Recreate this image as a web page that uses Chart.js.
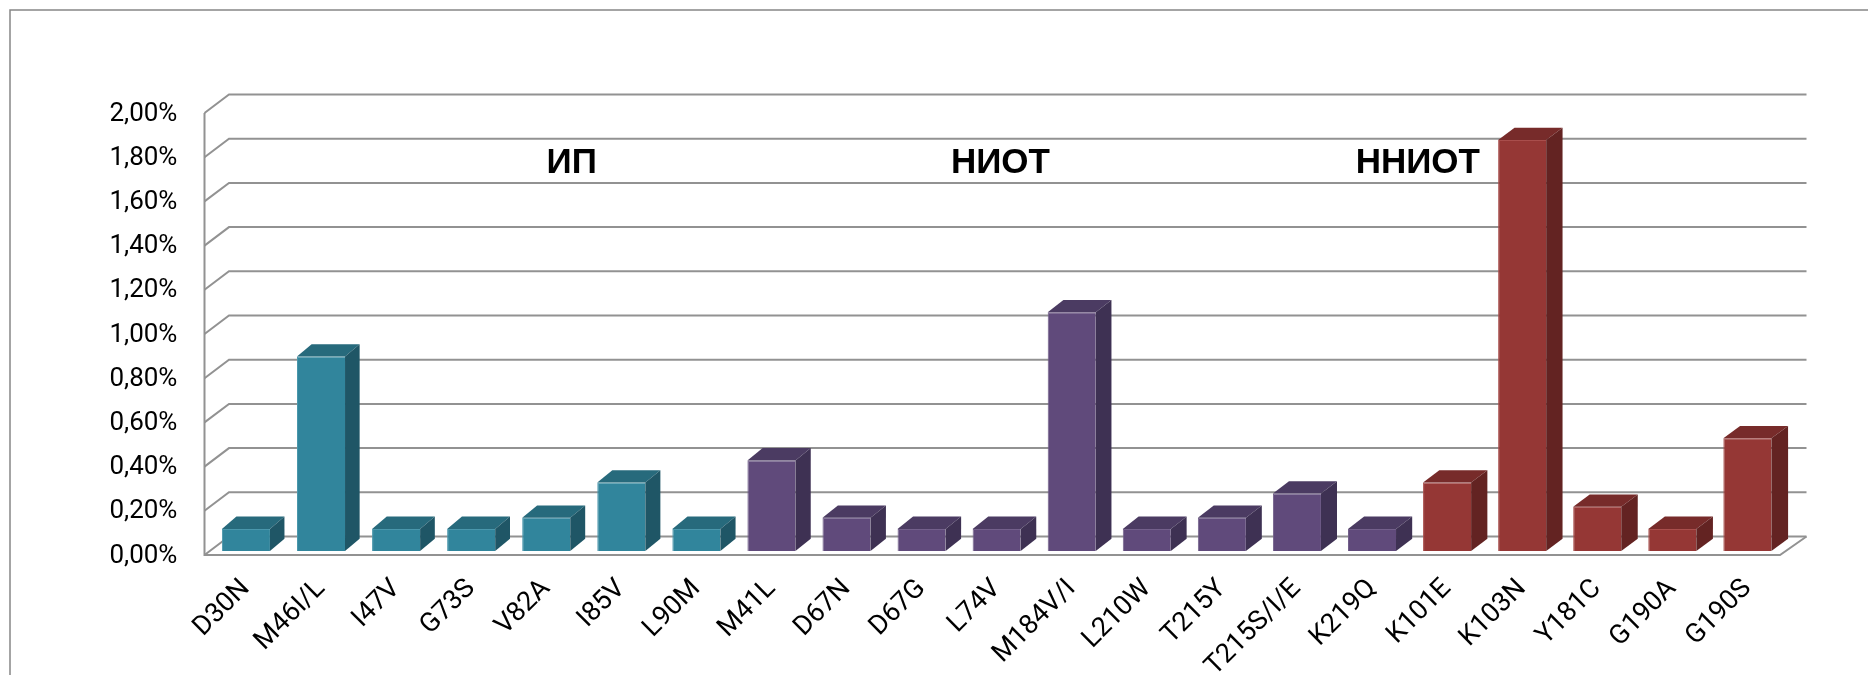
<!DOCTYPE html>
<html>
<head>
<meta charset="utf-8">
<script src="https://cdn.jsdelivr.net/npm/chart.js@4.4.1/dist/chart.umd.min.js"></script>
<style>
  html, body { margin: 0; padding: 0; background: #ffffff; }
  #wrap { width: 1868px; height: 675px; position: relative; }
</style>
</head>
<body>
<div id="wrap"><canvas id="chart" width="1868" height="675"></canvas></div>
<script>
// Resistance mutations, grouped by drug class
const mutations = ['D30N', 'M46I/L', 'I47V', 'G73S', 'V82A', 'I85V', 'L90M',
                   'M41L', 'D67N', 'D67G', 'L74V', 'M184V/I', 'L210W', 'T215Y', 'T215S/I/E', 'K219Q',
                   'K101E', 'K103N', 'Y181C', 'G190A', 'G190S'];
// Share of samples carrying each mutation, %
const frequency = [0.10, 0.88, 0.10, 0.10, 0.15, 0.31, 0.10,
                   0.41, 0.15, 0.10, 0.10, 1.08, 0.10, 0.15, 0.26, 0.10,
                   0.31, 1.86, 0.20, 0.10, 0.51];
// Drug classes and how many mutations belong to each
const groupNames = ['ИП', 'НИОТ', 'ННИОТ'];
const groupSizes = [7, 9, 5];
// Value axis range and step, %
const yMin = 0;
const yMax = 2;
const yStep = 0.2;

// Face colours per class: front, top, side
const palette = [
  { front: '#31859C', top: '#276A7C', side: '#1F5666', edge: '#4A97AC' },
  { front: '#604A7B', top: '#4B3B62', side: '#3E3153', edge: '#73608B' },
  { front: '#953735', top: '#772B2A', side: '#632322', edge: '#A94E4C' }
];

// Category index -> class index
const classOf = [];
groupSizes.forEach((n, g) => { for (let i = 0; i < n; i++) classOf.push(g); });

// Where the class captions sit: category position and value level
const captionAt = [
  { cat: 4.34, level: 1.71 },
  { cat: 10.05, level: 1.71 },
  { cat: 15.61, level: 1.71 }
];

const GRID = '#929292';
const BACK_DY = 14.5;     // back wall lies above the bar plane
const FRONT_DY = 4;       // front edge lies below the bar plane
const BAR_DY = 12.3;      // bar depth, vertical component

const fmtPct = v => v.toFixed(2).replace('.', ',') + '%';

const depth3d = {
  id: 'depth3d',
  beforeDatasetsDraw(chart) {
    const { ctx, chartArea: a, scales: { y } } = chart;
    const frontL = a.left - 3.9, backL = a.left + 20.6;
    const frontR = a.right - 4.9, backR = a.right + 21.6;
    ctx.save();
    ctx.strokeStyle = GRID;
    ctx.lineWidth = 2;
    ctx.lineCap = 'butt';
    y.ticks.forEach(t => {
      const p = y.getPixelForValue(t.value);
      ctx.beginPath();
      ctx.moveTo(frontL, p + FRONT_DY);
      ctx.lineTo(backL, p - BACK_DY);
      ctx.lineTo(backR, p - BACK_DY);
      ctx.stroke();
    });
    const p0 = y.getPixelForValue(yMin), p1 = y.getPixelForValue(yMax);
    ctx.beginPath();
    ctx.moveTo(frontL, p1 + FRONT_DY);
    ctx.lineTo(frontL, p0 + FRONT_DY);
    ctx.lineTo(frontR, p0 + FRONT_DY);
    ctx.lineTo(backR, p0 - BACK_DY);
    ctx.stroke();
    ctx.restore();
  },
  afterDatasetsDraw(chart) {
    const { ctx } = chart;
    const meta = chart.getDatasetMeta(0);
    ctx.save();
    meta.data.forEach((el, i) => {
      const { x, y, base, width } = el.getProps(['x', 'y', 'base', 'width'], true);
      const xL = x - width / 2, xR = x + width / 2;
      const dx = 14.5 + 2.2 * (xL - 220) / 1500;
      const dy = BAR_DY;
      const c = palette[classOf[i]];
      ctx.fillStyle = c.top;
      ctx.beginPath();
      ctx.moveTo(xL, y); ctx.lineTo(xR, y); ctx.lineTo(xR + dx, y - dy); ctx.lineTo(xL + dx, y - dy);
      ctx.closePath(); ctx.fill();
      ctx.fillStyle = c.side;
      ctx.beginPath();
      ctx.moveTo(xR, y); ctx.lineTo(xR + dx, y - dy); ctx.lineTo(xR + dx, base - dy); ctx.lineTo(xR, base);
      ctx.closePath(); ctx.fill();
    });
    ctx.restore();
  },
  afterDraw(chart) {
    const { ctx, scales: { x, y } } = chart;
    ctx.save();
    ctx.fillStyle = '#000000';
    ctx.font = "bold 35px 'Liberation Sans', Arial, sans-serif";
    ctx.textAlign = 'center';
    ctx.textBaseline = 'alphabetic';
    groupNames.forEach((name, g) => {
      ctx.fillText(name, x.getPixelForValue(captionAt[g].cat), y.getPixelForValue(captionAt[g].level));
    });
    // chart frame
    ctx.strokeStyle = '#868686';
    ctx.lineWidth = 1.5;
    ctx.strokeRect(10, 10, 1900, 720);
    ctx.restore();
  }
};

new Chart(document.getElementById('chart'), {
  type: 'bar',
  data: {
    labels: mutations,
    datasets: [{
      data: frequency,
      backgroundColor: frequency.map((_, i) => palette[classOf[i]].front),
      borderColor: frequency.map((_, i) => palette[classOf[i]].edge),
      borderWidth: { left: 1, top: 1, right: 0, bottom: 0 },
      barPercentage: 0.64,
      categoryPercentage: 1.0
    }]
  },
  options: {
    responsive: false,
    animation: false,
    devicePixelRatio: 1,
    layout: { padding: { left: 0, top: 109, right: 83.1, bottom: 0 } },
    plugins: { legend: { display: false }, tooltip: { enabled: false }, title: { display: false } },
    scales: {
      x: {
        type: 'category',
        offset: true,
        grid: { display: false, drawTicks: false, tickLength: 0 },
        border: { display: false },
        ticks: {
          autoSkip: false,
          minRotation: 45,
          maxRotation: 45,
          padding: 22,
          color: '#000000',
          font: { family: 'Roboto', size: 27 }
        },
        afterFit(scale) { scale.height = 124; }
      },
      y: {
        min: yMin,
        max: yMax,
        grid: { display: false, drawTicks: false, tickLength: 0 },
        border: { display: false },
        ticks: {
          stepSize: yStep,
          padding: 31,
          labelOffset: 5,
          color: '#000000',
          font: { family: 'Roboto', size: 26 },
          callback: v => fmtPct(v)
        },
        afterFit(scale) { scale.width = 208.4; }
      }
    }
  },
  plugins: [depth3d]
});
</script>
</body>
</html>
